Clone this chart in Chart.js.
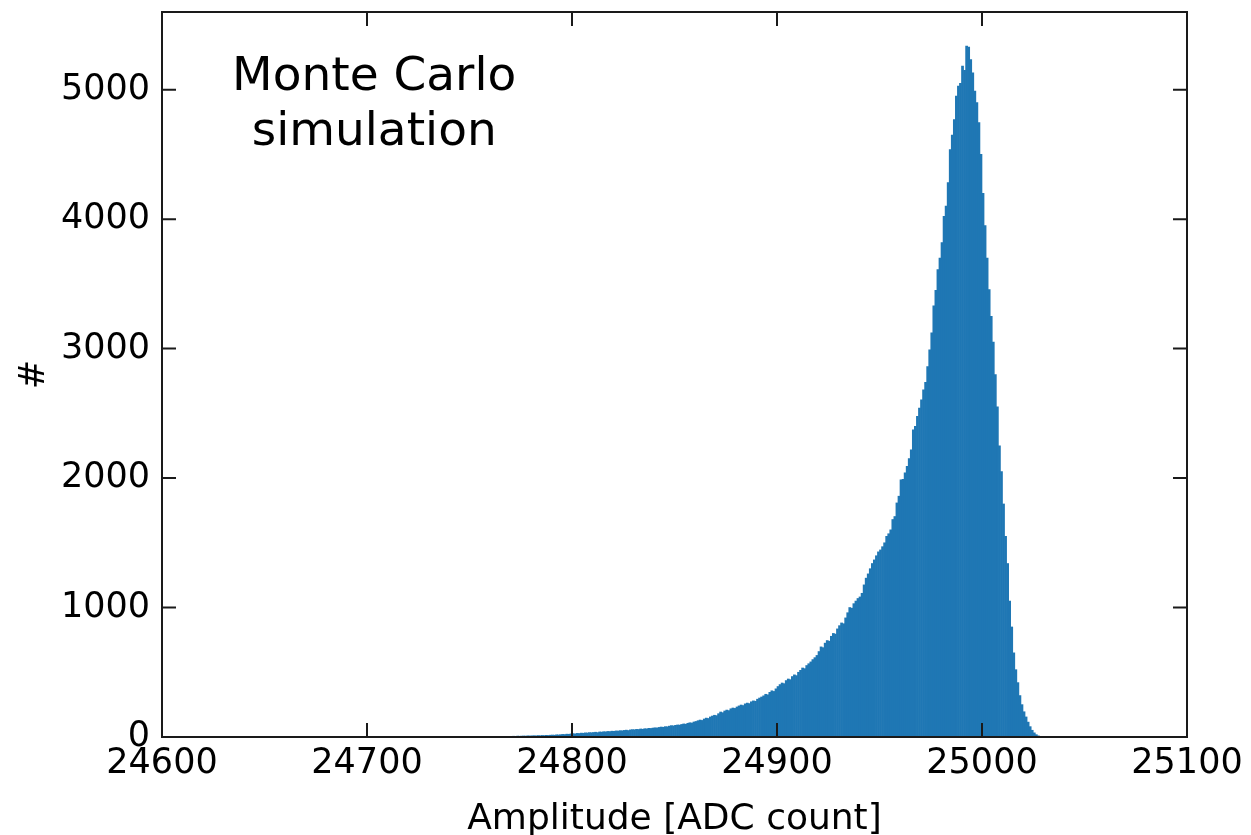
<!DOCTYPE html>
<html>
<head>
<meta charset="utf-8">
<script src="https://cdn.jsdelivr.net/npm/chart.js@4"></script>
<style>
  html, body { margin: 0; padding: 0; background: #fff; }
  #wrap { width: 1251px; height: 835px; }
</style>
</head>
<body>
<div id="wrap"><canvas id="hist"></canvas></div>
<script>
// histogram bins are 1 ADC count wide, first bin starts at 24755
var binStart = 24755;
var counts = [
  0, 1, 0, 1, 1,
  2, 1, 3, 2, 3, 4, 3, 4, 5, 4,
  5, 6, 5, 7, 6, 7, 8, 7, 9, 8,
  9, 10, 9, 11, 10, 12, 11, 13, 12, 14,
  15, 14, 17, 16, 18, 20, 19, 22, 21, 24,
  26, 24, 28, 27, 30, 29, 32, 31, 34, 33,
  35, 37, 34, 39, 38, 41, 40, 43, 42, 45,
  44, 47, 46, 49, 48, 51, 53, 50, 55, 57,
  56, 59, 58, 62, 60, 64, 63, 67, 66, 69,
  71, 70, 74, 77, 75, 80, 79, 84, 88, 86,
  90, 93, 92, 97, 101, 99, 106, 110, 108, 116,
  120, 126, 131, 128, 139, 146, 143, 155, 162, 168,
  165, 180, 193, 188, 201, 208, 204, 218, 224, 221,
  232, 240, 247, 243, 256, 262, 258, 272, 279, 276,
  292, 301, 309, 318, 330, 326, 345, 357, 352, 372,
  390, 405, 417, 412, 436, 448, 443, 467, 480, 474,
  500, 515, 533, 528, 552, 566, 580, 598, 613, 630,
  660, 696, 690, 725, 745, 740, 778, 800, 795, 835,
  860, 881, 875, 920, 960, 1000, 995, 1030, 1050, 1070,
  1082, 1110, 1175, 1227, 1260, 1300, 1340, 1368, 1400, 1430,
  1445, 1470, 1500, 1550, 1570, 1600, 1680, 1703, 1808, 1860,
  1987, 1990, 2040, 2090, 2150, 2218, 2373, 2400, 2476, 2540,
  2605, 2682, 2740, 2862, 2990, 3122, 3330, 3450, 3610, 3700,
  3819, 4022, 4100, 4282, 4538, 4650, 4769, 4950, 5027, 5050,
  5182, 5150, 5336, 5330, 5233, 5130, 4990, 4900, 4745, 4500,
  4200, 3950, 3700, 3455, 3250, 3050, 2800, 2550, 2250, 2050,
  1800, 1550, 1340, 1050, 850, 650, 520, 420, 320, 250,
  195, 155, 115, 80, 52, 32, 18, 9, 4, 2, 1
];
var xTicks = [24600, 24700, 24800, 24900, 25000, 25100];
var yTicks = [0, 1000, 2000, 3000, 4000, 5000];
var annotation = ['Monte Carlo', 'simulation'];

var points = counts.map(function (c, i) {
  return { x: binStart + i + 0.5, y: c };
});

var font = 'DejaVu Sans';

// matplotlib style: frame on all sides with inward tick marks
var frameTicks = {
  id: 'frameTicks',
  afterDatasetsDraw: function (chart) {
    var ctx = chart.ctx, a = chart.chartArea;
    var xs = chart.scales.x, ys = chart.scales.y;
    var len = 14;
    ctx.save();
    ctx.strokeStyle = '#1a1a1a';
    ctx.lineWidth = 2;
    ctx.beginPath();
    xTicks.forEach(function (v) {
      var px = xs.getPixelForValue(v);
      ctx.moveTo(px, a.bottom); ctx.lineTo(px, a.bottom - len);
      ctx.moveTo(px, a.top); ctx.lineTo(px, a.top + len);
    });
    yTicks.forEach(function (v) {
      var py = ys.getPixelForValue(v);
      ctx.moveTo(a.left, py); ctx.lineTo(a.left + len, py);
      ctx.moveTo(a.right, py); ctx.lineTo(a.right - len, py);
    });
    ctx.stroke();
    ctx.strokeRect(a.left, a.top, a.right - a.left, a.bottom - a.top);

    // text box in the upper left
    ctx.fillStyle = '#000';
    ctx.font = '47px "' + font + '"';
    ctx.textAlign = 'center';
    ctx.textBaseline = 'alphabetic';
    var cx = a.left + (a.right - a.left) * 0.207;
    ctx.fillText(annotation[0], cx, a.top + 78);
    ctx.fillText(annotation[1], cx, a.top + 133);
    ctx.restore();
  }
};

new Chart(document.getElementById('hist'), {
  type: 'bar',
  data: {
    datasets: [{
      data: points,
      backgroundColor: '#1f77b4',
      borderWidth: 0,
      barPercentage: 1,
      categoryPercentage: 1,
      grouped: false
    }]
  },
  options: {
    responsive: true,
    maintainAspectRatio: false,
    animation: false,
    layout: { padding: { left: 0, top: 12, right: 64, bottom: 0 } },
    plugins: { legend: { display: false }, tooltip: { enabled: false } },
    scales: {
      x: {
        type: 'linear',
        offset: false,
        min: 24600,
        max: 25100,
        afterBuildTicks: function (s) { s.ticks = xTicks.map(function (v) { return { value: v }; }); },
        afterFit: function (s) { s.height = 98; s.paddingLeft = 0; s.paddingRight = 0; },
        grid: { display: false, drawTicks: false, offset: false },
        border: { display: false },
        ticks: {
          color: '#000',
          padding: 6,
          maxRotation: 0,
          autoSkip: false,
          font: { family: font, size: 35 },
          callback: function (v) { return String(v); }
        },
        title: {
          display: true,
          text: 'Amplitude [ADC count]',
          color: '#000',
          font: { family: font, size: 36, lineHeight: 1 },
          padding: { top: 0, bottom: -3 }
        }
      },
      y: {
        min: 0,
        max: 5600,
        afterBuildTicks: function (s) { s.ticks = yTicks.map(function (v) { return { value: v }; }); },
        afterFit: function (s) { s.width = 162; s.paddingTop = 0; s.paddingBottom = 0; },
        grid: { display: false, drawTicks: false },
        border: { display: false },
        ticks: {
          color: '#000',
          padding: 12,
          font: { family: font, size: 35 },
          callback: function (v) { return String(v); }
        },
        title: {
          display: true,
          text: '#',
          color: '#000',
          font: { family: font, size: 35, lineHeight: 1 },
          padding: { top: 17, bottom: 0 }
        }
      }
    }
  },
  plugins: [frameTicks]
});
</script>
</body>
</html>
